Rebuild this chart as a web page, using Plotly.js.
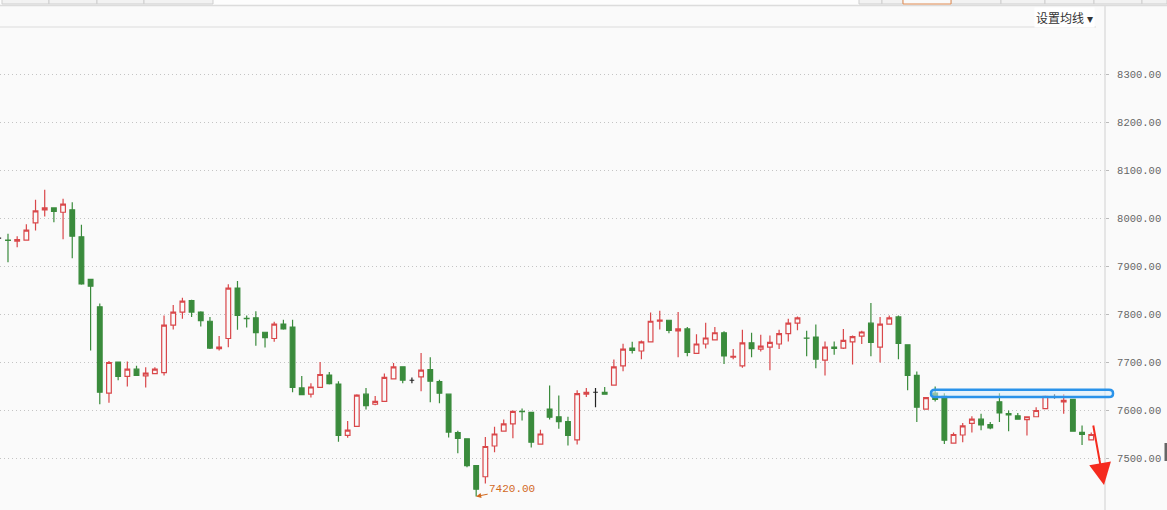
<!DOCTYPE html>
<html>
<head>
<meta charset="utf-8">
<script src="https://cdn.plot.ly/plotly-3.0.1.min.js"></script>
<style>
html,body{margin:0;padding:0;background:#fafafa;}
#chart{width:1167px;height:510px;}
</style>
</head>
<body>
<div id="chart"></div>
<script>
// ---- data ----
var openVals = [7958,7954,7952,7954,7990,8017,8021,8012,8017,7961,
  7872,7815,7635,7700,7670,7685,7671,7676,7678,7777,
  7804,7828,7804,7785,7728,7749,7854,7791,7792,7762,
  7749,7779,7773,7646,7633,7647,7673,7654,7547,7566,
  7633,7612,7618,7665,7690,7662,7669,7684,7659,7633,
  7553,7540,7484,7461,7525,7556,7571,7597,7595,7529,
  7602,7586,7576,7538,7633,7637,7637,7652,7692,7729,
  7723,7742,7785,7787,7765,7769,7718,7737.5,7746,7761,
  7710,7692,7740,7727,7731,7737.5,7759,7781,7750,7752,
  7704,7731,7729,7742,7754,7781,7731,7779,7794,7736,
  7672,7602,7635,7628.5,7531,7548,7572,7581,7569.5,7617,
  7592.5,7588,7580,7586,7603,7628,7617,7622,7553.5,7538];
var highVals = [7962,7967,7962,7987,8038,8059,8021,8040,8033,7986,
  7872,7822,7702,7700,7701,7692,7689,7689,7797,7819,
  7834,7830,7806,7794,7754,7862,7869,7797,7806,7762,
  7784,7788,7788,7671,7656,7700,7679,7660,7577,7633,
  7646,7629,7676,7698,7690,7668,7719,7710,7663,7633,
  7557,7540,7484,7544,7565,7580,7599,7603,7595,7559,
  7651,7630,7586,7641,7646,7646,7648,7705,7738,7742,
  7745,7803,7807,7787,7804,7773,7758,7782,7773,7764,
  7727,7767,7761,7757,7755,7767,7790,7795,7765,7778,
  7743,7743,7769,7755,7765,7823,7794,7797,7797,7736,
  7680,7626,7649,7635,7553,7573,7587,7592,7575,7635,
  7599,7594,7586,7606,7630,7633,7633,7622,7568,7553];
var lowVals = [7952,7908,7939,7954,7974,8003,7991,7956,7916,7861,
  7724,7612,7615,7662,7649,7672,7647,7675,7672,7768,
  7790,7794,7774,7727,7724,7731,7767,7772,7734,7730,
  7742,7767,7637,7632,7626,7647,7653,7534,7542,7566,
  7601,7610,7618,7665,7656,7656,7639,7616,7614,7543,
  7510,7481,7420,7447,7512,7556,7541,7578,7522,7529,
  7580,7561,7526,7528,7627,7606,7633,7651,7681,7718,
  7706,7742,7768,7760,7710,7712,7718,7728,7746,7696,
  7706,7688,7710,7722,7683,7727,7743,7766,7712,7687,
  7672,7715,7727,7695,7737.5,7712,7699,7779,7706,7641,
  7575,7602,7618,7529,7531,7533,7553,7558,7560,7575,
  7556,7580,7547,7586,7603,7624,7592,7556,7527,7538];
var closeVals = [7958,7953.5,7955,7975,8015,8021,8014,8029,7962,7863,
  7858,7637,7699,7670,7685,7672,7677,7685,7777,7804,
  7827,7804,7786,7729,7731,7854,7797,7790.5,7761,7751,
  7779,7769,7647,7632,7648,7674,7655,7547,7558,7631,
  7609,7618,7668,7690,7662,7662,7683,7660,7635,7554,
  7541,7484,7435,7524,7550,7571,7597,7596.5,7533,7550,
  7585,7576,7547,7634,7637,7637,7633,7690,7727,7724,
  7742,7785,7787.5,7766,7769,7720,7737.5,7750,7761,7712.5,
  7712,7740,7728,7733,7741,7759,7781,7792,7749.5,7706,
  7731,7728.5,7745,7753,7762.5,7741,7779,7792,7739,7672,
  7606,7626,7622,7537,7549,7567,7581,7569,7563,7594,
  7590,7581,7586,7599,7628.5,7628,7620,7556,7549,7549];
var blackCrossIdx = [0, 45, 65, 115];
var yTickVals = [7500, 7600, 7700, 7800, 7900, 8000, 8100, 8200, 8300];
var lowLabel = "7420.00";
var lowIndex = 52;
var lowPrice = 7420;
var levelTop = 7642, levelBottom = 7627;
var menuText = "设置均线 ▾";

// ---- build traces ----
var idx = openVals.map(function(_, i){ return i; });
var isBlack = function(i){ return blackCrossIdx.indexOf(i) >= 0; };
function pick(arr, black){ return arr.map(function(v,i){ return (isBlack(i) === black) ? v : null; }); }

var RED = '#d9474a', GREEN = '#3a8b3c', BG = '#fafafa';

var main = {
  type: 'candlestick', x: idx,
  open: pick(openVals,false), high: pick(highVals,false), low: pick(lowVals,false), close: pick(closeVals,false),
  increasing: {line: {color: RED, width: 1.2}, fillcolor: BG},
  decreasing: {line: {color: GREEN, width: 1.2}, fillcolor: GREEN},
  whiskerwidth: 0, hoverinfo: 'skip', showlegend: false
};
var blk = {
  type: 'candlestick', x: idx,
  open: pick(openVals,true), high: pick(highVals,true), low: pick(lowVals,true), close: pick(closeVals,true),
  increasing: {line: {color: '#222', width: 1.2}, fillcolor: '#222'},
  decreasing: {line: {color: '#222', width: 1.2}, fillcolor: '#222'},
  whiskerwidth: 0, hoverinfo: 'skip', showlegend: false
};

// pixel -> paper helpers (plot area: x 0..1105, y 27..510)
function PX(p){ return p / 1105; }
function PY(p){ return (510 - p) / 483; }

var shapes = [];
// top strip line and tabs
shapes.push({type:'rect', xref:'paper', yref:'paper', x0:PX(0), x1:PX(1167), y0:PY(6), y1:PY(0), fillcolor:'#fdfdfd', line:{width:0}, layer:'below'});
shapes.push({type:'line', xref:'paper', yref:'paper', x0:PX(0), x1:PX(1167), y0:PY(5.5), y1:PY(5.5), line:{color:'#dcdcdc', width:1.5}});
[[2,49],[49,97],[97,144],[144,213],[859,882],[882,903],[951,1001],[1001,1045],[1045,1094],[1094,1142],[1142,1167]].forEach(function(t){
  shapes.push({type:'rect', xref:'paper', yref:'paper', x0:PX(t[0]), x1:PX(t[1]), y0:PY(4), y1:PY(-2), fillcolor:'#f2f2f2', line:{color:'#cfcfcf', width:1}});
});
shapes.push({type:'rect', xref:'paper', yref:'paper', x0:PX(903), x1:PX(951), y0:PY(4), y1:PY(-2), fillcolor:'#fafafa', line:{color:'#e08a50', width:1}});
// header separator line
shapes.push({type:'line', xref:'paper', yref:'paper', x0:PX(0), x1:PX(1096), y0:PY(27), y1:PY(27), line:{color:'#e6e6e6', width:1.5}});
// right axis separator
shapes.push({type:'line', xref:'paper', yref:'paper', x0:PX(1105), x1:PX(1105), y0:PY(511), y1:PY(6), line:{color:'#dedede', width:1.5}});
// small dark scroll mark at far right
shapes.push({type:'rect', xref:'paper', yref:'paper', x0:PX(1164.5), x1:PX(1168), y0:PY(461), y1:PY(443), fillcolor:'#666', line:{width:0}});
// blue rounded level box
(function(){
  var xa = PX(931), xb = PX(1113), rx = PX(4) , ry = 7;
  var p = 'M ' + (xa+rx) + ',' + levelTop +
    ' L ' + (xb-rx) + ',' + levelTop +
    ' Q ' + xb + ',' + levelTop + ' ' + xb + ',' + (levelTop - ry) +
    ' L ' + xb + ',' + (levelBottom + ry) +
    ' Q ' + xb + ',' + levelBottom + ' ' + (xb-rx) + ',' + levelBottom +
    ' L ' + (xa+rx) + ',' + levelBottom +
    ' Q ' + xa + ',' + levelBottom + ' ' + xa + ',' + (levelBottom + ry) +
    ' L ' + xa + ',' + (levelTop - ry) +
    ' Q ' + xa + ',' + levelTop + ' ' + (xa+rx) + ',' + levelTop + ' Z';
  shapes.push({type:'path', xref:'paper', yref:'y', path:p, fillcolor:'rgba(215,236,252,0.55)', line:{color:'#2a93ea', width:2.5}});
})();

var annotations = [
  {xref:'paper', yref:'paper', x:PX(1095), y:PY(17), xanchor:'right', yanchor:'middle', text:menuText, showarrow:false,
   font:{family:'Noto Sans CJK SC, sans-serif', size:12, color:'#333'}, bgcolor:'#ffffff', borderpad:1},
  {xref:'x', yref:'y', x:lowIndex, y:lowPrice, text:lowLabel, showarrow:true, ax:36, ay:-7, arrowhead:2, arrowsize:1, arrowwidth:1,
   arrowcolor:'#d2691e', standoff:0, font:{family:'Liberation Mono, monospace', size:11, color:'#d2691e'}},
  {xref:'paper', yref:'paper', x:PX(1104), y:PY(485), text:'', showarrow:true, axref:'pixel', ayref:'pixel', ax:-11, ay:-61,
   arrowhead:2, arrowsize:2.2, arrowwidth:2, arrowcolor:'#f52a1e', standoff:0}
];

var layout = {
  width: 1167, height: 510,
  margin: {l:0, r:62, t:27, b:0, pad:0},
  paper_bgcolor: BG, plot_bgcolor: BG,
  showlegend: false,
  boxgap: 0.27,
  xaxis: {range:[0.13, 120.5], visible:false, rangeslider:{visible:false}, fixedrange:true},
  yaxis: {side:'right', range:[7391.7, 8398], tickvals:yTickVals, tickformat:'.2f',
    showgrid:true, gridcolor:'#c4c4c4', griddash:'1px,3px', gridwidth:1, zeroline:false,
    ticks:'outside', ticklen:3, tickcolor:'#bbb', showline:false, ticklabelstandoff:6,
    tickfont:{family:'Liberation Mono, monospace', size:10.5, color:'#666'}, fixedrange:true},
  shapes: shapes,
  annotations: annotations,
  hovermode: false
};

Plotly.newPlot('chart', [main, blk], layout, {displayModeBar:false, staticPlot:true});
</script>
</body>
</html>
